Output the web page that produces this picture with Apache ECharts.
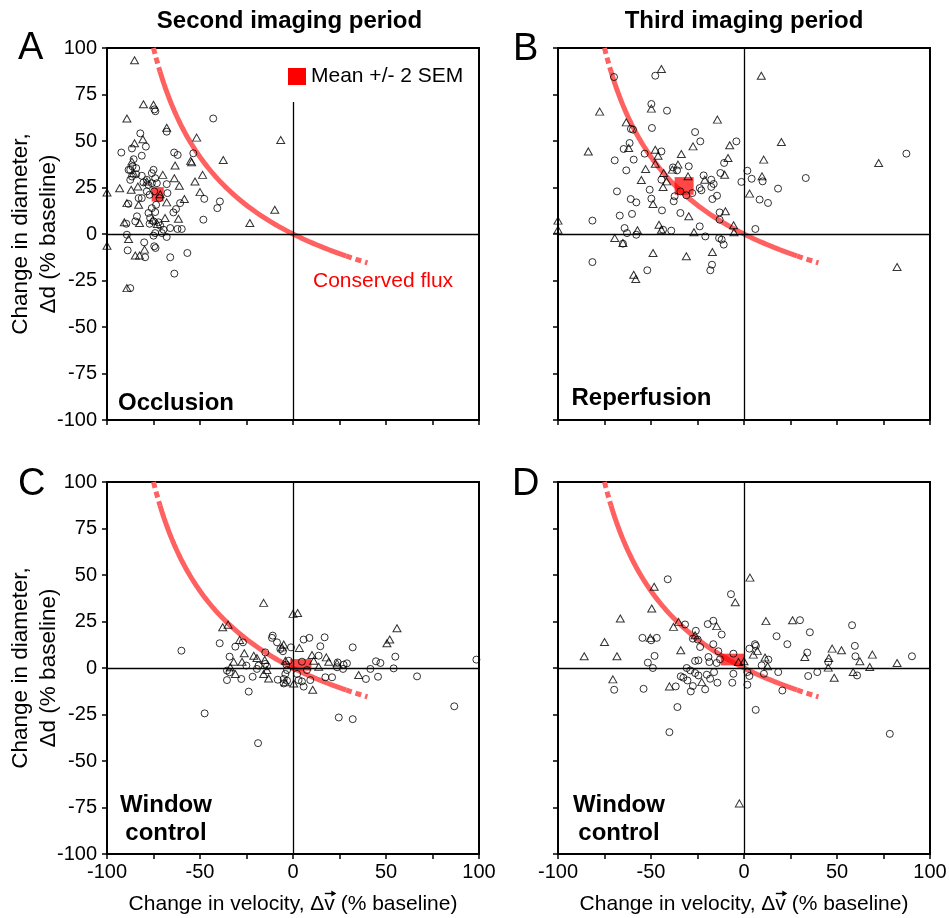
<!DOCTYPE html>
<html><head><meta charset="utf-8">
<script src="https://cdn.jsdelivr.net/npm/echarts@6/dist/echarts.min.js"></script>
<style>html,body{margin:0;padding:0;background:#fff}#c{width:949px;height:918px}</style>
</head><body><div id="c"></div>
<script>
// ---------------- DATA ----------------
// Each point: [change in velocity %, change in diameter %]
const occlusionCircles = [[-92.3,43.8],[-86.6,46],[-82.1,54.1],[-79.1,47],[-81.3,42.1],[-85.7,40.2],[-87.5,34.5],[-86.6,30.9],[-84.3,35.4],[-81.3,31.3],[-78.6,29.1],[-75.9,32.7],[-74.1,30],[-77.7,26.4],[-75.9,27.3],[-80.4,27.7],[-78.6,22.9],[-83,19.3],[-81.3,19.3],[-77.1,21.1],[-74.6,22.9],[-73.2,27.3],[-67.9,26.8],[-67.5,22],[-71.8,19.3],[-73.6,15.7],[-74.1,11.8],[-77.7,11.3],[-75.9,13.9],[-76.8,8.6],[-75,6.8],[-77.1,5.5],[-72.3,6.3],[-71.4,4.5],[-69.6,2.3],[-70.5,0.5],[-74.1,0.5],[-75,-0.9],[-67.9,-1.6],[-66,3.2],[-62.1,2.7],[-59.8,2.7],[-64.3,11.6],[-62.9,13.4],[-60.7,16.6],[-63.9,43.8],[-62,42.5],[-42.9,62.1],[-53.6,43.4],[-47.7,18.9],[-39.3,17.5],[-40.7,13.9],[-48.2,7.7],[-89.3,-0.4],[-88.9,-8.8],[-80,-4.5],[-79.5,-12.5],[-74.6,-6.6],[-73.9,-7.5],[-66,-12.5],[-56.8,-10.2],[-63.8,-21.3],[-87.5,-29.1],[-89.6,5.5],[-83.9,9.5],[-84.8,6.8],[-88.4,34.5],[-86.3,36.3],[-84.3,32.1],[-87.5,29.1],[-75,34.5],[-74.5,67],[-74,66],[-67.9,55],[-88.5,16.2]];
const occlusionTriangles = [[-85.2,93.4],[-89.3,62.1],[-80.4,69.8],[-75,69.5],[-67.9,57.1],[-51.8,51.8],[-6.6,50.5],[-85.2,48.8],[-80.7,50.9],[-37.5,39.8],[-55,39.3],[-54.5,38.6],[-63.4,36.8],[-48.6,31.8],[-52.7,28.2],[-70,31.8],[-63.8,30],[-61.1,25.9],[-50,22.5],[-93.2,24.6],[-100,22.3],[-87,23.8],[-86.6,38.9],[-85.7,32.7],[-83.4,25.5],[-83,15.7],[-89.3,16.6],[-82.5,5.9],[-90.7,6.3],[-88.4,-2.7],[-100,-6.3],[-84.8,-11.6],[-82.5,-11.6],[-79.8,-8.4],[-89.3,-29.1],[-67.9,17],[-68.8,8.6],[-61.6,8.2],[-58.4,18.8],[-71.4,21.4],[-23.2,5.9],[-9.8,13],[-72.9,5.4],[-75.4,7.7],[-78.6,28.2]];

const reperfusionCircles = [[-69.9,84.4],[-47.7,85.1],[-49.8,69.9],[-41.4,66.3],[-60.8,56.5],[-59.7,56.1],[-49.5,57],[-26.3,54.8],[-23.5,49.8],[-4.1,49.8],[-61.5,48.9],[-64.7,45.7],[-69.5,39.6],[-59.3,40],[-53.4,43.2],[-44.4,44.4],[-63.3,34.2],[-38.2,35.8],[-36,34.2],[-29.7,36.4],[-21.7,31.5],[-17.6,29.2],[-12.7,32.8],[-10.7,38.2],[-44.4,29.2],[-68.3,22.9],[-50.7,23.8],[-23.8,24.7],[-22.9,23.5],[-17.6,25.3],[-16.3,26.9],[-14.5,20.6],[-17,18.8],[-27.8,22],[-31,20.8],[-34.2,22.9],[-37.3,20.3],[-37.8,17.6],[-60.9,18.8],[-57.9,17],[-49.8,19],[-44.1,12.7],[-60.2,10.8],[-66.8,9.9],[-81.5,7.2],[-34.2,11.3],[-13.1,11.6],[-13.1,7.7],[-23.8,4.1],[-39.1,1.8],[-43.5,2.3],[-57.9,-0.4],[-64.2,3.2],[-62.9,0.5],[-20.8,-1.3],[-13.4,-2.2],[-12,-3],[-10.9,-5.7],[-65.1,-5.2],[-81.5,-15.1],[-52,-19.5],[-17.2,-16.5],[-18.1,-19.5],[1.8,34],[-1.4,28],[4.1,29.7],[10,28.3],[8.4,18.5],[12.9,16.7],[18.3,24.4],[33.2,30.1],[87.3,43.2],[6.1,2.7]];
const reperfusionTriangles = [[-44.4,88.7],[9.3,85.1],[-77.6,65.8],[-49.8,67.4],[-14.3,61.5],[-63.3,60],[-62,46.2],[-83.7,44.4],[-47.7,45.3],[-33.7,43],[-27.4,47.1],[-7.7,47.7],[20.1,49.5],[-8.6,40.9],[10.6,40],[-46.2,42.1],[-47.7,37.8],[-35.5,37.3],[-38.5,34.6],[-52.9,34.9],[-43.2,32.8],[-55.2,29],[-41.6,28.3],[-43.5,25.3],[-30.1,31],[-21.1,29.2],[-10.4,31.9],[9.7,31],[72.4,38.2],[3,21.7],[-48.9,16.1],[-10,12.2],[-29.7,9.5],[-100,7.2],[-100,2.3],[-45.7,5],[-44.4,2.3],[-57.3,2],[-26.9,0.9],[-5.6,4.7],[-5.4,0.9],[-69.5,-2.2],[-65.1,-4.8],[-48.9,-10.2],[-31,-12],[-17,-9.7],[-59.3,-21.9],[-58.2,-24.2],[82.3,-17.7]];

const control2Circles = [[-60,9.3],[-39.4,13.3],[-31,11.5],[-26.9,13.8],[-34.1,6.1],[-35.5,-1.4],[-34.1,-2.3],[-35.5,-6.5],[-27.8,-5.9],[-25.1,1.3],[-21.7,-4.7],[-23.8,-12.7],[-14.9,8.4],[-10.9,17.4],[-11.3,16.2],[-8.6,13.8],[-6.8,10.2],[-5.4,9],[-1.1,11.1],[5.7,15.3],[8.8,16.2],[14.7,11.7],[17,16.5],[13.8,6.6],[32.1,11.1],[55,6.1],[44.6,3.6],[47,2.7],[41.6,-0.5],[54.1,-0.2],[45.7,-4.7],[39.2,-5.9],[66.7,-4.5],[98.6,4.5],[86.7,-20.6],[24.6,-26.6],[32.1,-27.5],[-47.5,-24.4],[-18.8,-40.4],[-14.9,2.2],[-14,0.9],[-19.4,-0.5],[-18.5,1.3],[-8.2,-6.3],[-4.1,-3.2],[-5,-5.9],[-3.2,-6.8],[-5,-8.3],[-3.2,-1.1],[-3.6,1.8],[-2.3,3.9],[2.2,-3.2],[3,-6.5],[4.8,-7.2],[5.7,-10],[9.3,-6.5],[7.5,-1.1],[4.8,3.4],[17.4,-5],[21,-5],[24,3],[29,2.5],[26.9,-0.5],[23.7,0.4],[27.2,1.8]];
const control2Triangles = [[-15.8,35],[0,29.1],[2.5,29.6],[-34.9,23.3],[-37.8,21.9],[55.9,21.4],[52,15.3],[50.5,13.3],[-28.7,15.1],[-5,12.6],[-5.9,11.1],[3.4,10.8],[-26.2,7.9],[-31.9,3.4],[-27.4,3.4],[-21.1,6.6],[-19.4,5.4],[-15.2,4.3],[-4.1,3.9],[10.2,7],[11.1,3.9],[17.9,5.7],[19.2,3.4],[23.7,2.5],[13.8,0.7],[-33.7,0.4],[-31,-3.2],[-14,-1.1],[-15.8,-3.2],[-13.1,-5.6],[-4.1,-7.7],[0.4,-8.3],[10.6,-11.7],[35.3,-3.8]];

const control3Circles = [[-41,47.7],[-7,39.7],[-16.5,25.4],[-19.5,23.6],[-31.7,23.4],[-25.9,20],[-12,18],[-54.6,16.2],[-46.9,16.2],[-49.9,14.9],[-27.5,15.8],[-24.9,15.3],[-23.6,11.3],[-16.5,12.8],[-13.8,9],[-48.1,6.5],[-51.7,2.9],[-49,0],[-26.3,3.8],[-24.5,4.1],[-19.1,5.9],[-18.6,3.2],[-14.7,2.7],[-12.9,4.7],[-5.7,7.7],[-30.8,0],[-28.9,-1.3],[-26.3,-2.7],[-24.5,-4],[-20,-3.6],[-18.2,-5.8],[-16.1,-2.2],[-14.3,-7.9],[-34,-4.5],[-32.6,-5.2],[-30.4,-6.7],[-36.7,-9.9],[-27.5,-9.7],[-28.6,-12.6],[-20.9,-11.5],[-54,-11.2],[-69.8,-11.7],[-35.8,-21],[-40.1,-34.5],[-5.7,-3.1],[-6.3,-7.9],[1.8,-2.2],[2.9,-4.3],[1.8,-9],[6.3,-22.5],[2.9,10.4],[5.9,12.8],[6.4,11.9],[9.5,1.4],[10.7,-3.1],[13.1,4.5],[17.5,17.1],[23.3,12.8],[18.4,-2.2],[20.6,-12.1],[30.1,25.7],[35.4,19.2],[34,8.3],[34.5,-4.3],[39.4,-2.2],[45.3,3.2],[58.1,23],[59.6,11.9],[59.9,6.3],[60.8,-4],[90.3,6.3],[78.4,-35.4]];
const control3Triangles = [[3.2,48.6],[-48.3,43.7],[-49.6,32],[-4.7,35.3],[-66.5,26.6],[-35.2,24.8],[-37.9,22.1],[-14.7,22.5],[11.8,25.2],[26.1,25.7],[-26.3,17.6],[-50.4,16.2],[-75,14],[-34,9.5],[5,7.2],[7.2,9.2],[-85.9,6.3],[-68.3,6.3],[47.4,10.4],[52.4,9.5],[69,7.2],[32.7,5.9],[45.6,5.4],[62.3,3.6],[82.3,2.7],[67.6,0.5],[45.3,0.2],[11.3,5.6],[12.7,0.9],[0,3.6],[-3,3.2],[58.7,-2.2],[48.5,-5.2],[-70.5,-6.1],[-40.1,-9.9],[-22.7,-7.6],[-2.5,-72.8]];

// Mean +/- 2 SEM boxes: [vMin, vMax, dMin, dMax]
const occlusionMean   = [-76, -69.5, 17.5, 25.2];
const reperfusionMean = [-37.3, -27.1, 21.1, 30.6];
const control2Mean    = [-1.5, 9.9, -1.4, 4.8];
const control3Mean    = [-12.5, 0.5, 1.4, 7.7];

// Tick labels
const xTickLabels = [-100, -50, 0, 50, 100];
const yTickLabels = [100, 75, 50, 25, 0, -25, -50, -75, -100];

// Conserved-flux theoretical curve: (1+dv)(1+dd)^2 = 1  ->  dd = 100/sqrt(1+dv/100) - 100
const fluxDashTopRange = [-75, -71.5];
const fluxSolidRange   = [-71.5, 28.5];
const fluxDashEndRange = [28.5, 40];
function fluxCurve(r) {
  const out = [];
  for (let v = r[0]; v <= r[1] + 1e-9; v += 0.25) out.push([v, 100 / Math.sqrt(1 + v / 100) - 100]);
  return out;
}

// ---------------- LAYOUT ----------------
const FONT = '"Liberation Sans", Arial, Helvetica, sans-serif';
const GRID_SIZE = 372;
const panels = [
  { left: 107, top: 48,  circles: occlusionCircles,  triangles: occlusionTriangles,  mean: occlusionMean,  xLab: false, yLab: true,  vTop: 71 },
  { left: 558, top: 48,  circles: reperfusionCircles, triangles: reperfusionTriangles, mean: reperfusionMean, xLab: false, yLab: false, vTop: 100 },
  { left: 107, top: 482, circles: control2Circles,   triangles: control2Triangles,   mean: control2Mean,   xLab: true,  yLab: true,  vTop: 100 },
  { left: 558, top: 482, circles: control3Circles,   triangles: control3Triangles,   mean: control3Mean,   xLab: true,  yLab: false, vTop: 100 }
];
const X_PREFIX = 'Change in velocity, \u0394';
const X_VEC = 'v';
const X_SUFFIX = ' (% baseline)';
const X_TITLE = X_PREFIX + X_VEC + X_SUFFIX;
const X_TITLE_SIZE = 21;
const X_NAME_GAP = 40;
const Y_TITLE = 'Change in diameter,\n\u0394d (% baseline)';

const grids = [], xAxes = [], yAxes = [], series = [];
const tickStyle = { show: true, length: 5, inside: false, lineStyle: { color: '#000', width: 1.5 } };
const lineStyleAxis = { show: true, onZero: false, lineStyle: { color: '#000', width: 2 } };

panels.forEach((p, i) => {
  grids.push({ left: p.left, top: p.top, width: GRID_SIZE, height: GRID_SIZE, show: true, borderColor: '#000', borderWidth: 2,
    containLabel: false, outerBoundsMode: 'none' });
  xAxes.push({
    type: 'value', gridIndex: i, min: -100, max: 100, interval: 25,
    axisLine: lineStyleAxis, axisTick: tickStyle, splitLine: { show: false },
    axisLabel: { show: p.xLab, margin: 8, fontSize: 20, color: '#000', fontFamily: FONT, showMinLabel: true, showMaxLabel: true,
      formatter: v => xTickLabels.includes(v) ? String(v) : '' },
    name: p.xLab ? X_TITLE : '', nameLocation: 'middle', nameGap: X_NAME_GAP, nameMoveOverlap: false,
    nameTextStyle: { fontSize: X_TITLE_SIZE, color: '#000', fontFamily: FONT }
  });
  yAxes.push({
    type: 'value', gridIndex: i, min: -100, max: 100, interval: 25,
    axisLine: lineStyleAxis, axisTick: tickStyle, splitLine: { show: false },
    axisLabel: { show: p.yLab, margin: 10, fontSize: 20, color: '#000', fontFamily: FONT, showMinLabel: true, showMaxLabel: true,
      formatter: v => yTickLabels.includes(v) ? String(v) : '' },
    name: p.yLab ? Y_TITLE : '', nameLocation: 'middle', nameRotate: 90, nameGap: 44, nameMoveOverlap: false,
    nameTextStyle: { fontSize: 22.5, lineHeight: 28, color: '#000', fontFamily: FONT }
  });
  const curveStyle = { color: '#ff6161', width: 5 };
  [[fluxDashTopRange, [6, 4]], [fluxSolidRange, 'solid'], [fluxDashEndRange, [6, 4]]].forEach(([r, t]) => {
    series.push({ type: 'line', xAxisIndex: i, yAxisIndex: i, data: fluxCurve(r), showSymbol: false, symbol: 'none', silent: true,
      lineStyle: Object.assign({}, curveStyle, { type: t, cap: 'butt' }), z: 1 });
  });
  series.push({
    type: 'custom', name: 'Mean +/- 2 SEM', xAxisIndex: i, yAxisIndex: i, data: [p.mean], silent: true, z: 2,
    itemStyle: { color: '#ff0000' },
    encode: { x: [0, 1], y: [2, 3] },
    renderItem: (params, api) => {
      const a = api.coord([api.value(0), api.value(3)]);
      const b = api.coord([api.value(1), api.value(2)]);
      return { type: 'rect', shape: { x: a[0], y: a[1], width: b[0] - a[0], height: b[1] - a[1] }, style: { fill: 'rgba(255,0,0,0.72)' } };
    }
  });
  series.push({
    type: 'scatter', xAxisIndex: i, yAxisIndex: i, data: p.circles, symbol: 'circle', symbolSize: 7, clip: false, silent: true, z: 5,
    itemStyle: { color: 'rgba(255,255,255,0)', borderColor: '#000', borderWidth: 1 },
    markLine: {
      silent: true, symbol: 'none', animation: false, label: { show: false },
      lineStyle: { color: '#000', width: 1.3, type: 'solid' },
      data: [ { yAxis: 0 }, [ { coord: [0, -100] }, { coord: [0, p.vTop] } ] ]
    }
  });
  series.push({
    type: 'scatter', xAxisIndex: i, yAxisIndex: i, data: p.triangles, symbol: 'triangle', symbolSize: [8, 7], clip: false, silent: true, z: 5,
    itemStyle: { color: 'rgba(255,255,255,0)', borderColor: '#000', borderWidth: 1 }
  });
});

function txt(text, x, y, size, opts) {
  return { type: 'text', x: x, y: y, silent: true, z: 10,
    style: Object.assign({ text: text, fontSize: size, fontFamily: FONT, fill: '#000', align: 'left', verticalAlign: 'middle' }, opts || {}) };
}

// Vector arrow over the "v" of the velocity axis titles (measured from the title's own text metrics)
const mctx = document.createElement('canvas').getContext('2d');
mctx.font = X_TITLE_SIZE + 'px ' + FONT;
const wAll = mctx.measureText(X_TITLE).width;
const wPre = mctx.measureText(X_PREFIX).width;
const wVec = mctx.measureText(X_VEC).width;
const vecArrows = [];
panels.filter(p => p.xLab).forEach(p => {
  const cx = p.left + GRID_SIZE / 2;
  const x0 = cx - wAll / 2 + wPre + 0.5;
  const x1 = x0 + wVec;
  const y = p.top + GRID_SIZE + X_NAME_GAP - 0.5;
  vecArrows.push({ type: 'line', silent: true, z: 10, shape: { x1: x0, y1: y, x2: x1 - 1, y2: y }, style: { stroke: '#000', lineWidth: 1.4 } });
  vecArrows.push({ type: 'polygon', silent: true, z: 10, shape: { points: [[x1 + 1, y], [x1 - 4, y - 3], [x1 - 4, y + 3]] }, style: { fill: '#000' } });
});

const chart = echarts.init(document.getElementById('c'), null, { renderer: 'canvas' });
chart.setOption({
  animation: false,
  backgroundColor: '#fff',
  grid: grids, xAxis: xAxes, yAxis: yAxes, series: series,
  legend: { data: [{ name: 'Mean +/- 2 SEM', icon: 'rect' }], left: 283, top: 61, itemWidth: 18, itemHeight: 17, selectedMode: false,
    textStyle: { fontSize: 21, color: '#000', fontFamily: FONT } },
  graphic: [
    txt('Second imaging period', 289.5, 21, 24, { fontWeight: 'bold', align: 'center' }),
    txt('Third imaging period', 744, 21, 24, { fontWeight: 'bold', align: 'center' }),
    txt('A', 18, 49, 38), txt('B', 513, 50, 38), txt('C', 18, 485, 38), txt('D', 512, 485, 38),
    txt('Occlusion', 118, 403.5, 24, { fontWeight: 'bold' }),
    txt('Reperfusion', 571.5, 398, 24, { fontWeight: 'bold' }),
    txt('Window\ncontrol', 166, 819, 24, { fontWeight: 'bold', align: 'center', lineHeight: 28 }),
    txt('Window\ncontrol', 619, 819, 24, { fontWeight: 'bold', align: 'center', lineHeight: 28 }),
    txt('Conserved flux', 313, 281.5, 21, { fill: '#ff0000' })
  ].concat(vecArrows)
});
</script></body></html>
